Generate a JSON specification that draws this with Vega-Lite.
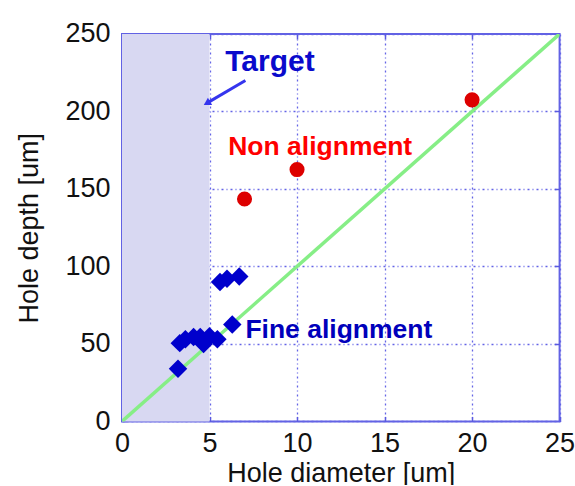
{
  "$schema": "https://vega.github.io/schema/vega-lite/v6.json",
  "autosize": {"type": "none"},
  "width": 437.6,
  "height": 387.4,
  "padding": {"left": 122, "top": 34, "right": 16, "bottom": 64},
  "background": "white",
  "config": {
    "font": "Liberation Sans",
    "view": {"stroke": "#6262e4", "strokeWidth": 2},
    "axis": {
      "domain": false,
      "labelFlush": false,
      "labelFont": "Liberation Sans",
      "labelFontSize": 27,
      "labelColor": "#111111",
      "titleFont": "Liberation Sans",
      "titleFontSize": 27,
      "titleFontWeight": "normal",
      "titleColor": "#111111",
      "tickColor": "#5a5ae0",
      "tickSize": -5,
      "tickWidth": 1.5,
      "gridColor": "#6464e6",
      "gridDash": [2, 3, 1, 3],
      "gridWidth": 1.3,
      "gridOpacity": 1
    }
  },
  "datasets": {
    "target": [{"d0": 0, "d1": 5}],
    "ideal": [{"d": 0, "h": 0}, {"d": 25, "h": 250}],
    "fine": [
      {"d": 3.2, "h": 34},
      {"d": 3.3, "h": 50.5},
      {"d": 3.62, "h": 53},
      {"d": 4.09, "h": 54.5},
      {"d": 4.47, "h": 54.5},
      {"d": 5.0, "h": 55},
      {"d": 4.66, "h": 50},
      {"d": 5.45, "h": 53},
      {"d": 6.3, "h": 62.5},
      {"d": 5.6, "h": 90},
      {"d": 6.0, "h": 92},
      {"d": 6.7, "h": 93.5}
    ],
    "non": [
      {"d": 7, "h": 143.5},
      {"d": 10, "h": 162.5},
      {"d": 20, "h": 207.5}
    ],
    "labels": [
      {"d": 5.9, "h": 225.8, "text": "Target", "group": "target"},
      {"d": 6.07, "h": 171.6, "text": "Non alignment", "group": "non"},
      {"d": 7.05, "h": 53.8, "text": "Fine alignment", "group": "fine"}
    ],
    "arrow": [{"d": 7.05, "h": 220, "d2": 4.85, "h2": 205.4}]
  },
  "resolve": {"axis": {"x": "independent", "y": "independent"}},
  "layer": [
    {
      "data": {"name": "target"},
      "mark": {"type": "rect", "color": "#d8d8f2"},
      "encoding": {
        "x": {
          "field": "d0", "type": "quantitative",
          "scale": {"domain": [0, 25], "nice": false, "zero": false},
          "axis": {
            "orient": "bottom",
            "values": [0, 5, 10, 15, 20, 25],
            "grid": true,
            "labelPadding": 14,
            "title": "Hole diameter [um]",
            "titlePadding": 4
          }
        },
        "x2": {"field": "d1"},
        "y": {
          "datum": 0, "type": "quantitative",
          "scale": {"domain": [0, 250], "nice": false, "zero": false},
          "axis": {
            "orient": "left",
            "values": [0, 50, 100, 150, 200, 250],
            "grid": true,
            "labelPadding": 17,
            "title": "Hole depth [um]",
            "titlePadding": 21
          }
        },
        "y2": {"datum": 250}
      }
    },
    {
      "data": {"name": "ideal"},
      "mark": {"type": "line", "color": "#86ee86", "strokeWidth": 3.5, "clip": true},
      "encoding": {
        "x": {
          "field": "d", "type": "quantitative",
          "axis": {"orient": "top", "values": [5, 10, 15, 20], "labels": false, "grid": false, "title": null}
        },
        "y": {
          "field": "h", "type": "quantitative",
          "axis": {"orient": "right", "values": [50, 100, 150, 200], "labels": false, "grid": false, "title": null}
        }
      }
    },
    {
      "data": {"name": "arrow"},
      "mark": {"type": "rule", "color": "#3535ee", "strokeWidth": 3},
      "encoding": {
        "x": {"field": "d", "type": "quantitative", "axis": null},
        "y": {"field": "h", "type": "quantitative", "axis": null},
        "x2": {"field": "d2"},
        "y2": {"field": "h2"}
      }
    },
    {
      "data": {"name": "arrow"},
      "mark": {"type": "point", "shape": "triangle-up", "filled": true, "color": "#3535ee", "size": 70, "angle": 239.5, "opacity": 1},
      "encoding": {
        "x": {"field": "d2", "type": "quantitative", "axis": null},
        "y": {"field": "h2", "type": "quantitative", "axis": null}
      }
    },
    {
      "data": {"name": "fine"},
      "mark": {"type": "point", "shape": "diamond", "filled": true, "color": "#0000cc", "size": 340, "opacity": 1},
      "encoding": {
        "x": {"field": "d", "type": "quantitative", "axis": null},
        "y": {"field": "h", "type": "quantitative", "axis": null}
      }
    },
    {
      "data": {"name": "non"},
      "mark": {"type": "point", "shape": "circle", "filled": true, "color": "#dd0000", "size": 227, "opacity": 1},
      "encoding": {
        "x": {"field": "d", "type": "quantitative", "axis": null},
        "y": {"field": "h", "type": "quantitative", "axis": null}
      }
    },
    {
      "data": {"name": "labels"},
      "mark": {"type": "text", "align": "left", "baseline": "alphabetic", "fontWeight": "bold", "font": "Liberation Sans"},
      "encoding": {
        "x": {"field": "d", "type": "quantitative", "axis": null},
        "y": {"field": "h", "type": "quantitative", "axis": null},
        "text": {"field": "text"},
        "size": {"condition": {"test": "datum.group === 'target'", "value": 30}, "value": 26.5},
        "color": {
          "field": "group", "type": "nominal", "legend": null,
          "scale": {"domain": ["target", "non", "fine"], "range": ["#0a0acc", "#ff0000", "#0000bb"]}
        }
      }
    }
  ]
}
